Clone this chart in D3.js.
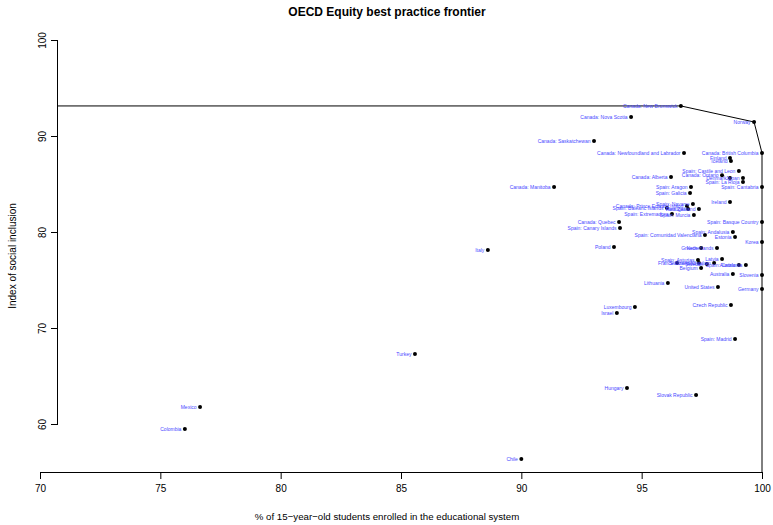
<!DOCTYPE html>
<html>
<head>
<script src="https://cdn.jsdelivr.net/npm/d3@7"></script>
<style>
  body { margin: 0; background: #fff; }
  text { font-family: "Liberation Sans", Arial, sans-serif; }
</style>
</head>
<body>
<script>
var w = 773, h = 525;
// the x axis runs from 70 at x=40, while the y axis sits at x=58 (as in the original R plot)
var margin = {top: 40, right: 11, bottom: 53, left: 40};
var yAxisX = 58;

// data
var names = [
  "Canada: New Brunswick", "Canada: Nova Scotia", "Norway", "Canada: Saskatchewan",
  "Canada: Newfoundland and Labrador", "Canada: British Columbia", "Finland", "Iceland",
  "Spain: Castile and Leon", "Canada: Ontario", "Canada: Alberta", "Denmark", "Japan",
  "Spain: La Rioja", "Spain: Cantabria", "Spain: Aragon", "Spain: Galicia", "Ireland",
  "Spain: Navarre", "Canada: Prince Edward Island", "Spain: Balearic Islands", "Portugal",
  "New Zealand", "Spain: Extremadura", "Spain: Murcia", "Canada: Quebec",
  "Spain: Canary Islands", "Spain: Basque Country", "Spain: Comunidad Valenciana",
  "Spain: Andalusia", "Estonia", "Korea", "Poland", "Greece", "Netherlands",
  "Spain: Asturias", "Latvia", "France", "Switzerland", "Sweden", "United Kingdom",
  "Austria", "Spain: Catalonia", "Belgium", "Australia", "Slovenia", "Lithuania",
  "United States", "Germany", "Luxembourg", "Israel", "Czech Republic", "Spain: Madrid",
  "Italy", "Canada: Manitoba", "Turkey", "Hungary", "Slovak Republic", "Mexico",
  "Colombia", "Chile"
];
var enrolled = [
  96.63, 94.56, 99.67, 93.02,
  96.76, 100.0, 98.67, 98.71,
  99.04, 98.34, 96.22, 98.67, 99.21,
  99.21, 100.0, 97.05, 97.01, 98.67,
  97.13, 96.88, 96.05, 96.93,
  97.38, 96.26, 97.17, 94.06,
  94.10, 100.0, 97.63,
  98.79, 98.88, 100.0, 93.85, 97.47, 98.13,
  97.34, 98.34, 96.47, 97.38, 97.71, 98.01,
  99.04, 99.33, 97.47, 98.79, 100.0, 96.09,
  98.17, 100.0, 94.72, 93.97, 98.71, 98.88,
  88.61, 91.36, 85.58, 94.39, 97.26, 76.65,
  76.02, 90.0
];
var inclusion = [
  93.13, 91.98, 91.46, 89.48,
  88.23, 88.23, 87.71, 87.40,
  86.35, 85.90, 85.73, 85.63, 85.63,
  85.21, 84.69, 84.69, 84.06, 83.13,
  82.92, 82.71, 82.50, 82.40,
  82.40, 81.88, 81.77, 81.04,
  80.42, 81.04, 79.69,
  80.00, 79.48, 78.96, 78.44, 78.33, 78.33,
  77.08, 77.19, 76.77, 76.77, 76.67, 76.77,
  76.56, 76.56, 76.25, 75.63, 75.52, 74.69,
  74.27, 74.06, 72.19, 71.56, 72.40, 68.85,
  78.13, 84.69, 67.29, 63.75, 63.02, 61.77,
  59.48, 56.35
];
// frontier: New Brunswick, Norway, British Columbia
var frontierIdx = [0, 2, 5];

var xTicks = [70, 75, 80, 85, 90, 95, 100];
var yTicks = [60, 70, 80, 90, 100];

var data = names.map(function (n, i) {
  return {name: n, x: enrolled[i], y: inclusion[i]};
});

var svg = d3.select("body").append("svg")
  .attr("width", w)
  .attr("height", h);

var xScale = d3.scaleLinear().domain([70, 100]).range([margin.left, w - margin.right]);
var yScale = d3.scaleLinear().domain([55, 100]).range([h - margin.bottom, margin.top]);

svg.append("clipPath").attr("id", "plotclip")
  .append("rect")
  .attr("x", yAxisX).attr("y", margin.top)
  .attr("width", w - yAxisX)
  .attr("height", h - margin.top - margin.bottom);

// frontier line, running off to the left and down to the bottom
var fr = frontierIdx.map(function (i) { return data[i]; });
var frontier = [{x: 0, y: fr[0].y}].concat(fr).concat([{x: fr[fr.length - 1].x, y: 0}]);
svg.append("path")
  .datum(frontier)
  .attr("clip-path", "url(#plotclip)")
  .attr("fill", "none")
  .attr("stroke", "#000")
  .attr("stroke-width", 1)
  .attr("d", d3.line().x(function (d) { return xScale(d.x); }).y(function (d) { return yScale(d.y); }));

svg.append("g").selectAll("circle")
  .data(data)
  .enter()
  .append("circle")
  .attr("cx", function (d) { return xScale(d.x); })
  .attr("cy", function (d) { return yScale(d.y); })
  .attr("r", 2)
  .attr("fill", "#000");

svg.append("g").selectAll("text")
  .data(data)
  .enter()
  .append("text")
  .attr("x", function (d) { return xScale(d.x) - 3.5; })
  .attr("y", function (d) { return yScale(d.y); })
  .attr("dy", "0.35em")
  .attr("text-anchor", "end")
  .attr("font-size", "5px")
  .attr("fill", "#4848ff")
  .text(function (d) { return d.name; });

// axes in the style of base R
var xAxis = d3.axisBottom(xScale).tickValues(xTicks).tickSize(7).tickPadding(6);
svg.append("g")
  .attr("transform", "translate(0," + (h - margin.bottom) + ")")
  .call(xAxis)
  .call(function (g) {
    g.select(".domain").attr("d", "M" + xScale(70) + ",0.5H" + xScale(100));
    g.selectAll(".tick text").attr("font-size", "10px").attr("font-family", "Liberation Sans, Arial, sans-serif");
  });

var yAxis = d3.axisLeft(yScale).tickValues(yTicks).tickSize(7).tickPadding(5);
svg.append("g")
  .attr("transform", "translate(" + yAxisX + ",0)")
  .call(yAxis)
  .call(function (g) {
    g.select(".domain").attr("d", "M-0.5," + yScale(60) + "V" + yScale(100));
    g.selectAll(".tick text")
      .attr("font-size", "10px")
      .attr("font-family", "Liberation Sans, Arial, sans-serif")
      .attr("text-anchor", "middle")
      .attr("transform", "rotate(-90)")
      .attr("x", 0)
      .attr("dy", "0")
      .attr("y", -12);
  });

svg.append("text")
  .attr("x", 387)
  .attr("y", 16)
  .attr("text-anchor", "middle")
  .attr("font-size", "12px")
  .attr("font-weight", "bold")
  .text("OECD Equity best practice frontier");

svg.append("text")
  .attr("x", 387)
  .attr("y", h - 5)
  .attr("text-anchor", "middle")
  .attr("font-size", "9.7px")
  .text("% of 15\u2212year\u2212old students enrolled in the educational system");

svg.append("text")
  .attr("transform", "translate(16," + ((margin.top + h - margin.bottom) / 2) + ") rotate(-90)")
  .attr("text-anchor", "middle")
  .attr("font-size", "10px")
  .text("Index of social inclusion");
</script>
</body>
</html>
